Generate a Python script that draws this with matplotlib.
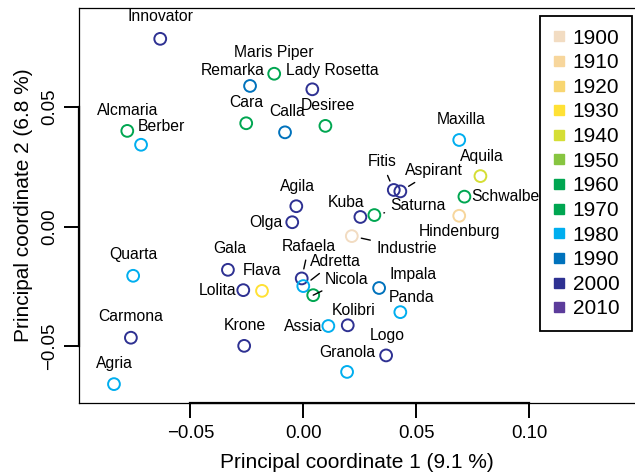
import matplotlib
matplotlib.use("Agg")
import matplotlib.pyplot as plt
from matplotlib.lines import Line2D

plt.rcParams['font.family'] = ['Liberation Sans', 'DejaVu Sans']

# --- DATA ---
varieties = ['Innovator', 'Maris Piper', 'Remarka', 'Lady Rosetta', 'Cara', 'Calla',
             'Desiree', 'Alcmaria', 'Berber', 'Agila', 'Kuba', 'Saturna', 'Fitis',
             'Aspirant', 'Maxilla', 'Aquila', 'Schwalbe', 'Hindenburg', 'Industrie',
             'Olga', 'Quarta', 'Gala', 'Lolita', 'Flava', 'Rafaela', 'Adretta',
             'Nicola', 'Impala', 'Panda', 'Kolibri', 'Assia', 'Logo', 'Granola',
             'Krone', 'Carmona', 'Agria']
pco1 = [-0.0634, -0.0129, -0.0236, 0.0040, -0.0253, -0.0081,
        0.0098, -0.0780, -0.0719, -0.0031, 0.0253, 0.0315, 0.0401,
        0.0430, 0.0691, 0.0785, 0.0714, 0.0691, 0.0215,
        -0.0049, -0.0754, -0.0334, -0.0266, -0.0183, -0.0007, 0.0000,
        0.0044, 0.0336, 0.0430, 0.0197, 0.0111, 0.0367, 0.0194,
        -0.0262, -0.0764, -0.0839]
pco2 = [0.0785, 0.0639, 0.0588, 0.0574, 0.0432, 0.0394,
        0.0421, 0.0400, 0.0342, 0.0085, 0.0040, 0.0048, 0.0153,
        0.0147, 0.0362, 0.0211, 0.0125, 0.0045, -0.0040,
        0.0018, -0.0206, -0.0181, -0.0266, -0.0269, -0.0217, -0.0249,
        -0.0287, -0.0257, -0.0358, -0.0413, -0.0416, -0.0539, -0.0608,
        -0.0499, -0.0465, -0.0659]
decade = [2000, 1960, 1990, 2000, 1970, 1990,
          1960, 1970, 1980, 2000, 2000, 1960, 2000,
          2000, 1980, 1940, 1970, 1910, 1900,
          2000, 1980, 2000, 2000, 1930, 2000, 1980,
          1970, 1990, 1980, 2000, 1980, 2000, 1980,
          2000, 2000, 1980]

decades = [1900, 1910, 1920, 1930, 1940, 1950, 1960, 1970, 1980, 1990, 2000, 2010]
decade_colors = ['#F2DCC2', '#F7D69C', '#F8D671', '#FFE135', '#D5DE35', '#87C540',
                 '#00A651', '#00A651', '#00AEEF', '#0072BC', '#2E3192', '#5C3C9B']
col = dict(zip(decades, decade_colors))

# label placement: (dx px, dy px, ha, leader line)
label_pos = {
    'Innovator': (0, 22, 'center', False), 'Maris Piper': (0, 21, 'center', False),
    'Remarka': (-17, 15, 'center', False), 'Lady Rosetta': (20, 19, 'center', False),
    'Cara': (0, 21, 'center', False), 'Calla': (2, 21, 'center', False),
    'Desiree': (3, 20, 'center', False), 'Alcmaria': (0, 20, 'center', False),
    'Berber': (20, 18, 'center', False), 'Agila': (1, 20, 'center', False),
    'Kuba': (-14, 14, 'center', False), 'Saturna': (44, 10, 'center', True),
    'Fitis': (-12, 28, 'center', True), 'Aspirant': (34, 21, 'center', True),
    'Maxilla': (2, 20, 'center', False), 'Aquila': (1, 20, 'center', False),
    'Schwalbe': (7, 0, 'left', False), 'Hindenburg': (0, -16, 'center', False),
    'Industrie': (55, -12, 'center', True), 'Olga': (-10, 0, 'right', False),
    'Quarta': (0, 21, 'center', False), 'Gala': (2, 21, 'center', False),
    'Lolita': (-7, 0, 'right', False), 'Flava': (0, 20, 'center', False),
    'Rafaela': (7, 32, 'center', True), 'Adretta': (32, 25, 'center', True),
    'Nicola': (33, 16, 'center', True), 'Impala': (34, 13, 'center', False),
    'Panda': (11, 15, 'center', False), 'Kolibri': (6, 15, 'center', False),
    'Assia': (-6, 0, 'right', False), 'Logo': (1, 20, 'center', False),
    'Granola': (0, 19, 'center', False), 'Krone': (1, 20, 'center', False),
    'Carmona': (0, 21, 'center', False), 'Agria': (0, 21, 'center', False),
}

# --- PLOT ---
fig = plt.figure(figsize=(6.35, 4.76), dpi=100)
ax = fig.add_axes([79 / 635, 73 / 476, 556 / 635, 395 / 476])

ax.scatter(pco1, pco2, s=72, facecolors='none',
           edgecolors=[col[d] for d in decade], linewidths=1.4, zorder=3)

for name, x, y in zip(varieties, pco1, pco2):
    dx, dy, ha, leader = label_pos[name]
    arrow = dict(arrowstyle='-', color='black', lw=1.0, shrinkA=2.5, shrinkB=7) if leader else None
    ax.annotate(name, (x, y), xytext=(dx, dy), textcoords='offset pixels',
                ha=ha, va='center', fontsize=11.3, arrowprops=arrow)

ax.set_xlim(-0.0994, 0.147)
ax.set_ylim(-0.0738, 0.0914)
ax.set_xticks([-0.05, 0.00, 0.05, 0.10])
ax.set_xticklabels(['\u22120.05', '0.00', '0.05', '0.10'])
ax.set_yticks([-0.05, 0.00, 0.05])
ax.set_yticklabels(['\u22120.05', '0.00', '0.05'], rotation=90, va='center')
ax.tick_params(length=11, width=1.4, labelsize=13.4, direction='out')
ax.tick_params(axis='x', pad=5)
ax.tick_params(axis='y', pad=4)

for s in ['top', 'left', 'bottom']:
    ax.spines[s].set_linewidth(0.9)
ax.spines['right'].set_visible(False)
# R-style axis lines spanning the ticks
ax.plot([-0.05, 0.10], [-0.0738, -0.0738], color='black', lw=1.6, clip_on=False, zorder=4)
ax.plot([-0.0994, -0.0994], [-0.05, 0.05], color='black', lw=1.6, clip_on=False, zorder=4)

ax.set_xlabel('Principal coordinate 1 (9.1 %)', fontsize=15, labelpad=8)
ax.set_ylabel('Principal coordinate 2 (6.8 %)', fontsize=15, labelpad=6)

handles = [Line2D([], [], marker='s', linestyle='none', markersize=6.5,
                  markerfacecolor=c, markeredgecolor=c) for c in decade_colors]
leg = fig.legend(handles, [str(d) for d in decades], loc='upper left',
                 bbox_to_anchor=(540 / 635, 1 - 15.7 / 476), borderaxespad=0,
                 fontsize=15, frameon=True, fancybox=False, framealpha=1,
                 edgecolor='black', handlelength=0.6, handletextpad=0.35,
                 labelspacing=0.27, borderpad=0.62)
leg.get_frame().set_linewidth(1.3)

fig.savefig('out.png', dpi=100)
